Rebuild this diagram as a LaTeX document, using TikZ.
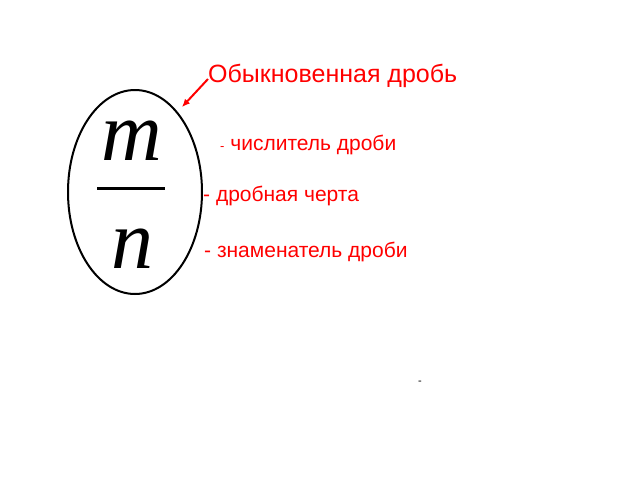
\documentclass[tikz,border=0pt]{standalone}
\usepackage{fontspec}
\setmainfont{Liberation Sans}
\newfontfamily\letterfont{Liberation Serif}
\usetikzlibrary{positioning,shapes.geometric,arrows.meta}

\begin{document}
\begin{tikzpicture}[x=1pt,y=-1pt,
  caption/.style={text=red,anchor=base west,inner sep=0pt,font=\fontsize{21}{24}\selectfont},
  letter/.style={font=\letterfont\itshape\fontsize{84}{84}\selectfont,inner sep=0pt,anchor=base}]
\useasboundingbox (0,0) rectangle (640,480);
\node [draw,ellipse,line width=2pt,minimum width=134,minimum height=204,inner sep=0pt] (frac) at (135,192) {};
\node [letter] (num) at (132,160) {m};
\node [letter] (den) at (132,268) {n};
\draw [line width=3pt] (97,188)--(165,188);
\node [caption,font=\fontsize{25}{28}\selectfont] (title) at (208,82) {Обыкновенная дробь};
\coordinate (tip) at (182,107);
\draw [red,line width=2pt,-{Latex[length=8pt,width=7pt]}] ([yshift=3pt]title.base west)--(tip);
\node [caption] (numer) at (220,150) {{\fontsize{13}{14}\selectfont -} числитель дроби};
\node [caption] (bar) at (203,201) {- дробная черта};
\node [caption] (denom) at (204,257) {- знаменатель дроби};
\node [inner sep=0pt,font=\fontsize{11}{12}\selectfont] (dash) at (420,383) {-};
\end{tikzpicture}
\end{document}
